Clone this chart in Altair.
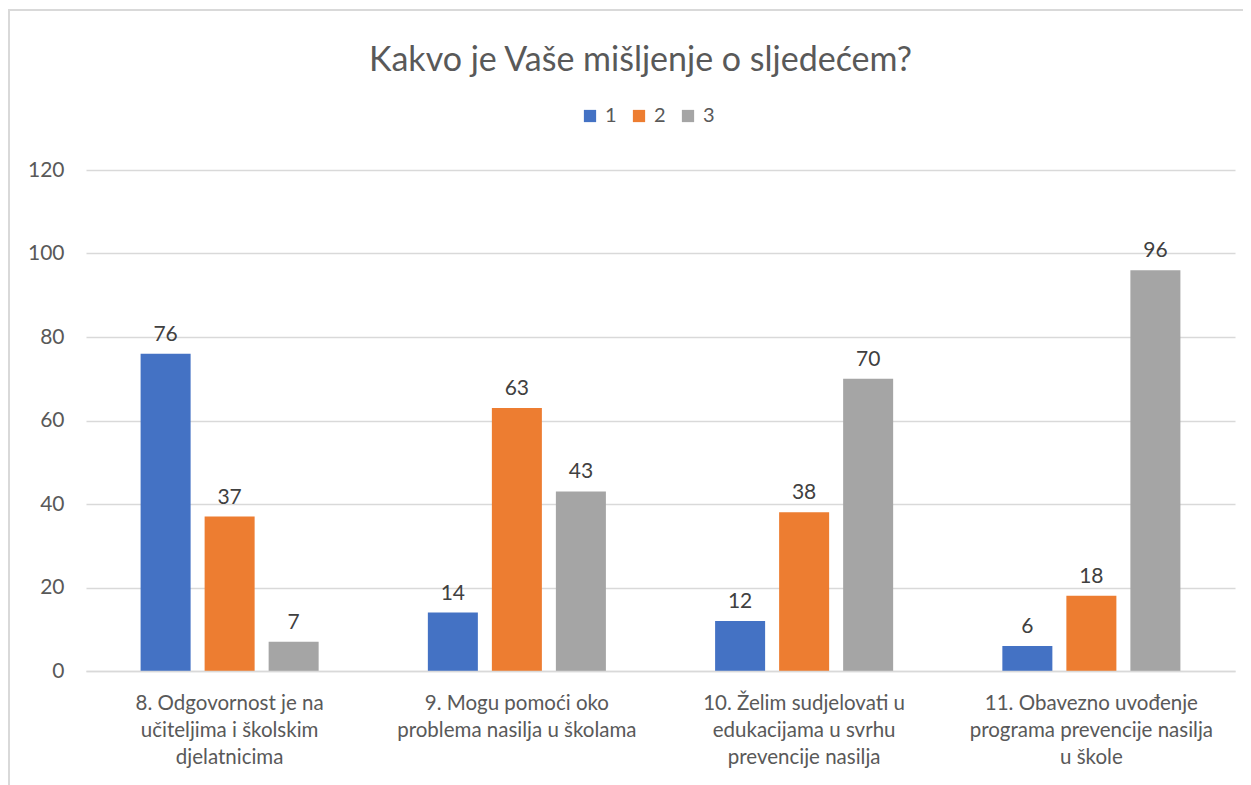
import altair as alt
import pandas as pd

categories = [
    "8. Odgovornost je na|učiteljima i školskim|djelatnicima",
    "9. Mogu pomoći oko|problema nasilja u školama",
    "10. Želim sudjelovati u|edukacijama u svrhu|prevencije nasilja",
    "11. Obavezno uvođenje|programa prevencije nasilja|u škole",
]
series = ["1", "2", "3"]
values_1 = [76, 14, 12, 6]
values_2 = [37, 63, 38, 18]
values_3 = [7, 43, 70, 96]
colors = ["#4472C4", "#ED7D31", "#A5A5A5"]
y_ticks = [0, 20, 40, 60, 80, 100, 120]

rows = []
for s, vals in zip(series, [values_1, values_2, values_3]):
    for c, v in zip(categories, vals):
        rows.append({"cat": c, "series": s, "value": v})
df = pd.DataFrame(rows)

FONT = "Lato"
GREY = "#595959"

x_enc = alt.X("cat:N", sort=categories,
              scale=alt.Scale(paddingInner=0, paddingOuter=0),
              axis=alt.Axis(title=None, labelAngle=0,
                            labelExpr="split(datum.label, '|')",
                            labelFont=FONT, labelFontSize=20.5, labelColor=GREY,
                            labelLineHeight=27, labelPadding=22, labelLimit=0,
                            domainColor="#D9D9D9", domainWidth=1.5,
                            ticks=False, grid=False, zindex=1))
xoff = alt.XOffset("series:N", sort=series,
                   scale=alt.Scale(paddingInner=0.21875, paddingOuter=0.853))
y_enc = alt.Y("value:Q", scale=alt.Scale(domain=[0, 120]),
              axis=alt.Axis(title=None, values=y_ticks, labelFont=FONT,
                            labelFontSize=21, labelColor=GREY, labelPadding=22,
                            domain=False, ticks=False,
                            gridColor="#D9D9D9", gridWidth=1.5))

border = alt.Chart(pd.DataFrame({"a": [0]})).mark_rect(
    fillOpacity=0, stroke="#D9D9D9", strokeWidth=2
).encode(x=alt.value(-77), x2=alt.value(1250), y=alt.value(-160), y2=alt.value(720))

bars = alt.Chart(df).mark_bar().encode(
    x=x_enc, xOffset=xoff, y=y_enc,
    color=alt.Color("series:N", sort=series,
                    scale=alt.Scale(domain=series, range=colors),
                    legend=alt.Legend(title=None, orient="none", direction="horizontal",
                                      legendX=494, legendY=-64,
                                      symbolType="square", symbolSize=150,
                                      symbolStrokeWidth=0,
                                      labelFont=FONT, labelFontSize=20,
                                      labelColor=GREY, columnPadding=12,
                                      labelOffset=5)),
)

labels = alt.Chart(df).mark_text(
    baseline="bottom", dy=-9, font=FONT, fontSize=21, color="#404040"
).encode(x=x_enc, xOffset=xoff, y=y_enc, text="value:Q")

chart = alt.layer(border, bars, labels).properties(
    width=1149, height=501,
    title=alt.TitleParams("Kakvo je Vaše mišljenje o sljedećem?", font=FONT,
                          fontSize=34, fontWeight="normal", color=GREY,
                          anchor="middle", offset=-69, dx=-20),
    autosize=alt.AutoSizeParams(type="none"),
    padding={"left": 78, "top": 162, "right": 8, "bottom": 114},
).configure_view(stroke=None)

chart.save("out.html", embed_options={"renderer": "svg", "actions": False})
